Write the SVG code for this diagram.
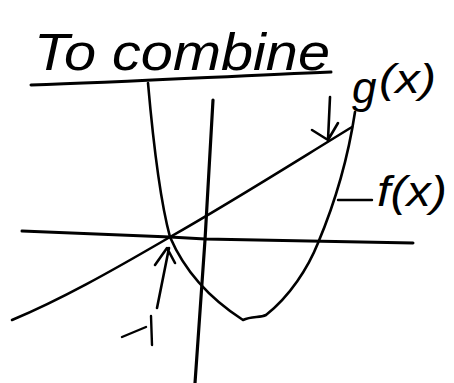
<svg xmlns="http://www.w3.org/2000/svg" width="454" height="383" viewBox="0 0 454 383">
<style>
.ink{fill:none;stroke:#000;stroke-linecap:round;stroke-linejoin:round}
.t{font-family:"Liberation Sans",Arial,sans-serif;font-style:italic;fill:#000}
</style>
<rect width="454" height="383" fill="#fff"/>
<g id="title">
<text class="t" x="34" y="70" font-size="52" textLength="296" lengthAdjust="spacingAndGlyphs">To combine</text>
<path class="ink" stroke-width="3" d="M31,85 C130,82 230,76 331,72"/>
</g>
<g id="axes">
<path class="ink" stroke-width="3" d="M22,231 L170,237 L205,239 L413,243"/>
<path class="ink" stroke-width="3.2" d="M213,100 L205,240 L195,383"/>
</g>
<g id="curves">
<path id="fx" class="ink" stroke-width="2.6" d="M148,83 C153,140 160,200 170,237 C185,272 212,300 243,320 C252,316 260,318 266,315 C290,296 308,268 318,243 C334,205 347,165 355,112"/>
<path id="gx" class="ink" stroke-width="2.6" d="M12,320 C60,300 110,272 170,237 C230,203 290,165 352,127"/>
</g>
<g id="labels">
<text class="t" x="352" y="103" font-size="44">g</text>
<text class="t" x="379" y="93" font-size="40" textLength="57" lengthAdjust="spacingAndGlyphs">(x)</text>
<path class="ink" stroke-width="2.4" d="M338,200 L372,200"/>
<text class="t" x="377" y="206" font-size="42" textLength="70" lengthAdjust="spacingAndGlyphs">f(x)</text>
<path class="ink" stroke-width="2.4" d="M122,337 L146,327 M151,316 L152,345"/>
</g>
<g id="connectors">
<path class="ink" stroke-width="2.6" d="M330,97 L328,140 M312,130 L328,140 L338,123"/>
<path class="ink" stroke-width="2.6" d="M157,308 L169,248 M155,265 L167,248 L175,263"/>
</g>
</svg>
